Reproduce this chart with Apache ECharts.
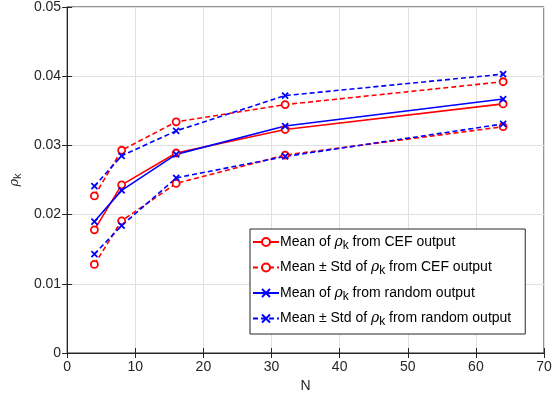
<!DOCTYPE html>
<html><head><meta charset="utf-8">
<script src="https://cdn.jsdelivr.net/npm/echarts@6/dist/echarts.min.js"></script>
<style>html,body{margin:0;padding:0;background:#fff}#c{width:556px;height:398px}</style>
</head><body><div id="c"></div>
<script>
var N = [4, 8, 16, 32, 64];
var cefMean  = [0.0178, 0.0243, 0.0289, 0.0323, 0.0360];
var cefUpper = [0.0227, 0.0293, 0.0334, 0.0359, 0.0392];
var cefLower = [0.0128, 0.0191, 0.0245, 0.0286, 0.0327];
var rndMean  = [0.0190, 0.0235, 0.0287, 0.0328, 0.0367];
var rndUpper = [0.0241, 0.0285, 0.0321, 0.0372, 0.0403];
var rndLower = [0.0143, 0.0184, 0.0253, 0.0284, 0.0331];
var xTicks = [0, 10, 20, 30, 40, 50, 60, 70];
var yTicks = [0, 0.01, 0.02, 0.03, 0.04, 0.05];
var legendNames = [
  'Mean of {r|ρ}{s|k} from CEF output',
  'Mean ± Std of {r|ρ}{s|k} from CEF output',
  'Mean of {r|ρ}{s|k} from random output',
  'Mean ± Std of {r|ρ}{s|k} from random output'
];

var RED = '#ff0000', BLUE = '#0000ff', TXT = '#262626';
var FONT = 'Liberation Sans';
var XSYM = 'path://M0,0L10,10M10,0L0,10';

function pairs(ys){ return N.map(function(n,i){ return [n, ys[i]]; }); }
function mk(name, ys, color, dashed, sym){
  return {
    name: name, type: 'line', data: pairs(ys),
    symbol: sym, symbolSize: sym === 'circle' ? 7 : 6,
    showSymbol: true,
    lineStyle: { color: color, width: 1.6, type: dashed ? [5, 3] : 'solid' },
    itemStyle: { color: sym === 'circle' ? '#fff' : 'none', borderColor: color, borderWidth: 1.8 },
    emphasis: { disabled: true },
    animation: false, z: 3
  };
}
var chart = echarts.init(document.getElementById('c'), null, {renderer: 'canvas'});
var axisLabel = { color: TXT, fontSize: 14, fontFamily: FONT };
chart.setOption({
  animation: false,
  textStyle: { fontFamily: FONT },
  grid: { left: 57, right: 12, top: 7, bottom: 45, show: true, borderColor: '#262626', borderWidth: 1, backgroundColor: 'transparent' },
  xAxis: [{
    type: 'value', min: xTicks[0], max: xTicks[xTicks.length-1], interval: 10,
    name: 'N', nameLocation: 'middle', nameGap: 26,
    nameTextStyle: { color: TXT, fontSize: 14, fontFamily: FONT },
    axisLine: { show: true, lineStyle: { color: '#262626' } },
    axisTick: { show: true, inside: true, length: 5, lineStyle: { color: '#262626' } },
    axisLabel: Object.assign({ margin: 7 }, axisLabel),
    splitLine: { show: true, lineStyle: { color: '#e0e0e0', width: 1 } }
  }, {
    type: 'value', position: 'top', min: 0, max: 70, interval: 10,
    axisLine: { show: false }, axisLabel: { show: false }, splitLine: { show: false },
    axisTick: { show: true, inside: true, length: 5, lineStyle: { color: '#262626' } }
  }],
  yAxis: [{
    type: 'value', min: yTicks[0], max: yTicks[yTicks.length-1], interval: 0.01,
    name: '{r|ρ}{s|k}', nameLocation: 'middle', nameGap: 39, nameRotate: 90,
    nameTextStyle: { color: TXT, fontSize: 14, rich: {
      r: { fontFamily: 'DejaVu Serif', fontStyle: 'italic', fontSize: 13, color: TXT },
      s: { fontFamily: FONT, fontSize: 11, color: TXT, padding: [6, 0, 0, 0] } } },
    axisLine: { show: true, lineStyle: { color: '#262626' } },
    axisTick: { show: true, inside: true, length: 5, lineStyle: { color: '#262626' } },
    axisLabel: Object.assign({ margin: 6, formatter: function(v){ return v === 0 ? '0' : v.toFixed(2); } }, axisLabel),
    splitLine: { show: true, lineStyle: { color: '#e0e0e0', width: 1 } }
  }, {
    type: 'value', position: 'right', min: 0, max: 0.05, interval: 0.01,
    axisLine: { show: false }, axisLabel: { show: false }, splitLine: { show: false },
    axisTick: { show: true, inside: true, length: 5, lineStyle: { color: '#262626' } }
  }],
  legend: {
    orient: 'vertical', left: 250, top: 229,
    backgroundColor: '#fff', borderColor: '#262626', borderWidth: 1,
    padding: [6, 14, 6, 2], itemGap: 9, itemWidth: 26, itemHeight: 10,
    data: legendNames,
    textStyle: { color: '#000', fontSize: 14, fontFamily: FONT, padding: [0,0,0,-4], rich: {
      r: { fontFamily: 'DejaVu Serif', fontStyle: 'italic', fontSize: 14, color: '#000' },
      s: { fontFamily: FONT, fontSize: 12, color: '#000', padding: [7, 0, 0, 0] } } }
  },
  series: [
    mk(legendNames[0], cefMean, RED, false, 'circle'),
    mk(legendNames[1], cefUpper, RED, true, 'circle'),
    mk(legendNames[1], cefLower, RED, true, 'circle'),
    mk(legendNames[2], rndMean, BLUE, false, XSYM),
    mk(legendNames[3], rndUpper, BLUE, true, XSYM),
    mk(legendNames[3], rndLower, BLUE, true, XSYM)
  ]
});
</script></body></html>
